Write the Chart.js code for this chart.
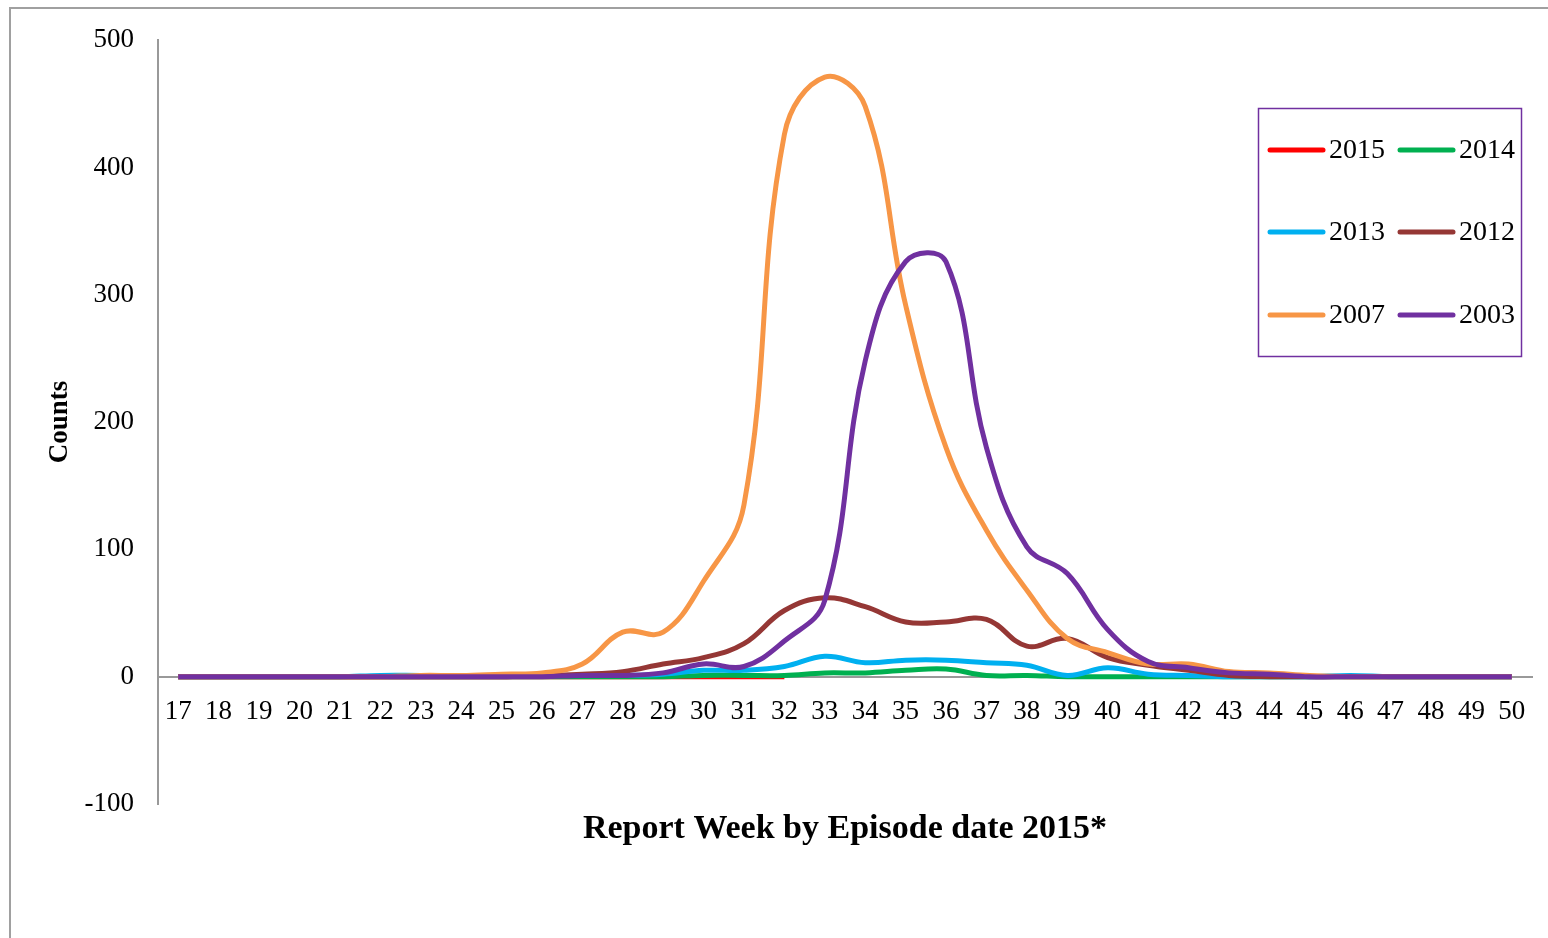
<!DOCTYPE html>
<html>
<head>
<meta charset="utf-8">
<script src="https://cdn.jsdelivr.net/npm/chart.js@4"></script>
<style>
  html, body { margin: 0; padding: 0; background: #fff; overflow: hidden; }
  #frame { position: absolute; left: 9px; top: 7px; width: 1560px; height: 960px; border: 2px solid #a0a0a0; }
  #wrap { position: absolute; left: 0; top: 0; width: 1548px; height: 938px; }
</style>
</head>
<body>
<div id="frame"></div>
<div id="wrap"><canvas id="myChart"></canvas></div>
<script>
var weeks = ["17","18","19","20","21","22","23","24","25","26","27","28","29","30","31","32","33",
             "34","35","36","37","38","39","40","41","42","43","44","45","46","47","48","49","50"];

// 2015 only reported up to week 32
var y2015 = [0,0,0,0,0,0,0,0,0,0,0,0,0,0,0,0];
var y2014 = [0,0,0,0,0,0,0,0,0,0,0,0,0,1,1,1,3,3,5,6,1,1,0,0,0,0,0,0,0,0,0,0,0,0];
var y2013 = [0,0,0,0,0,1,1,1,1,1,1,1,2,5,5,8,16,11,13,13,11,9,1,7,2,1,0,0,0,1,0,0,0,0];
var y2012 = [0,0,0,0,0,0,0,0,0,1,2,4,10,15,26,52,62,55,43,43,45,24,30,15,9,5,1,0,0,0,0,0,0,0];
var y2007 = [0,0,0,0,0,0,1,1,2,3,10,35,35,75,135,426,471,448,292,180,115,68,30,19,10,10,4,3,1,0,0,0,0,0];
var y2003 = [0,0,0,0,0,0,0,0,0,0,1,1,3,10,8,28,60,248,326,326,180,102,81,37,12,7,3,2,0,0,0,0,0,0];

var seriesNames = ["2015", "2014", "2013", "2012", "2007", "2003"];
var seriesData = [y2015, y2014, y2013, y2012, y2007, y2003];
var seriesColors = ["#FF0000", "#00B050", "#00B0F0", "#953735", "#F79646", "#7030A0"];

var serif = "'Liberation Serif', 'Times New Roman', serif";

// legend box + axis titles drawn on the canvas
var extras = {
  id: "extras",
  afterDraw: function(chart) {
    var ctx = chart.ctx;
    var area = chart.chartArea;
    ctx.save();

    ctx.fillStyle = "#000";
    ctx.font = "bold 34px " + serif;
    ctx.textAlign = "center";
    ctx.textBaseline = "middle";
    ctx.fillText("Report Week by Episode date 2015*", (area.left + area.right) / 2, 829);

    ctx.save();
    ctx.translate(60, (area.top + area.bottom) / 2);
    ctx.rotate(-Math.PI / 2);
    ctx.font = "bold 27px " + serif;
    ctx.fillText("Counts", 0, 0);
    ctx.restore();

    ctx.strokeStyle = "#7030A0";
    ctx.lineWidth = 1.5;
    ctx.strokeRect(1258.5, 108.5, 263, 248);

    var rows = [150, 232, 315];
    var cols = [1270, 1400];
    ctx.font = "28px " + serif;
    ctx.textAlign = "left";
    for (var i = 0; i < seriesNames.length; i++) {
      var x = cols[i % 2];
      var y = rows[Math.floor(i / 2)];
      ctx.strokeStyle = seriesColors[i];
      ctx.lineWidth = 5;
      ctx.lineCap = "round";
      ctx.beginPath();
      ctx.moveTo(x, y);
      ctx.lineTo(x + 53, y);
      ctx.stroke();
      ctx.fillStyle = "#000";
      ctx.fillText(seriesNames[i], x + 59, y + 1);
    }
    ctx.restore();
  }
};

var datasets = [];
for (var i = 0; i < seriesNames.length; i++) {
  datasets.push({
    label: seriesNames[i],
    data: seriesData[i],
    borderColor: seriesColors[i],
    backgroundColor: seriesColors[i],
    borderWidth: 5,
    pointRadius: 0,
    tension: 0.4,
    fill: false,
    order: seriesNames.length - i
  });
}

new Chart("myChart", {
  type: "line",
  data: { labels: weeks, datasets: datasets },
  options: {
    responsive: true,
    maintainAspectRatio: false,
    animation: false,
    layout: { padding: { top: 37, right: 16, bottom: 134, left: 0 } },
    plugins: {
      legend: { display: false },
      tooltip: { enabled: false }
    },
    scales: {
      x: {
        position: { y: 0 },
        offset: true,
        grid: { display: false, drawTicks: false },
        border: { display: true, color: "#999999", width: 2 },
        ticks: { color: "#000", font: { family: serif, size: 27 }, padding: 19, maxRotation: 0, autoSkip: false },
        afterFit: function(scale) { scale.height = 0; }
      },
      y: {
        min: -100,
        max: 500,
        grid: { display: false, drawTicks: false },
        border: { display: true, color: "#999999", width: 2 },
        ticks: { stepSize: 100, color: "#000", font: { family: serif, size: 27 }, padding: 24 },
        afterFit: function(scale) { scale.width = 158; }
      }
    }
  },
  plugins: [extras]
});
</script>
</body>
</html>
